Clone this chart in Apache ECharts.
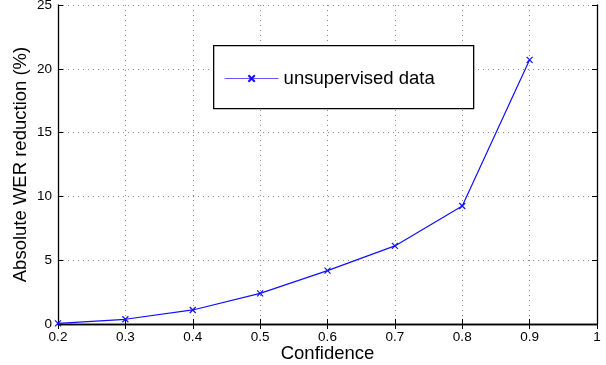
<!DOCTYPE html>
<html>
<head>
<meta charset="utf-8">
<script src="https://cdn.jsdelivr.net/npm/echarts@6/dist/echarts.min.js"></script>
<style>
  html, body { margin: 0; padding: 0; background: #fff; }
  #chart { width: 606px; height: 365px; }
</style>
</head>
<body>
<div id="chart"></div>
<script>
// confidence thresholds and the WER reduction
const confidence = [0.2, 0.3, 0.4, 0.5, 0.6, 0.7, 0.8, 0.9];
const werReduction = [0.05, 0.37, 1.1, 2.4, 4.18, 6.12, 9.25, 20.7];
const seriesName = 'unsupervised data';

const font = 'Liberation Sans, Arial, Helvetica, sans-serif';
const blue = '#1010ff';
const crossSymbol = 'path://M0,0L10,10M10,0L0,10';

const myChart = echarts.init(document.getElementById('chart'));

const boxAxis = {
  axisLine: {show: true, lineStyle: {color: '#000', width: 1.3}},
  axisTick: {show: true, inside: true, length: 5, lineStyle: {color: '#000'}},
  splitLine: {show: false}
};

myChart.setOption({
  animation: false,
  textStyle: {fontFamily: font},
  grid: {left: 58, right: 9, top: 5, bottom: 41, outerBoundsMode: 'none', containLabel: false},
  xAxis: [
    {
      type: 'value', min: 0.2, max: 1, interval: 0.1,
      name: 'Confidence', nameLocation: 'middle', nameGap: 20, nameMoveOverlap: false,
      nameTextStyle: {fontSize: 18.5, color: '#000', fontFamily: font},
      axisLine: {lineStyle: {color: '#000', width: 1.3}},
      axisTick: {inside: true, length: 5, lineStyle: {color: '#000'}},
      axisLabel: {fontSize: 13.5, color: '#000', margin: 6, formatter: v => String(+v.toFixed(1))},
      splitLine: {show: true, lineStyle: {color: '#888', type: [1, 4], width: 1}}
    },
    Object.assign({type: 'value', position: 'top', min: 0.2, max: 1, interval: 0.1,
      axisLabel: {show: false}}, boxAxis)
  ],
  yAxis: [
    {
      type: 'value', min: 0, max: 25, interval: 5,
      name: 'Absolute WER reduction (%)', nameLocation: 'middle', nameGap: 28, nameMoveOverlap: false,
      nameTextStyle: {fontSize: 18.5, color: '#000', fontFamily: font},
      axisLine: {show: true, lineStyle: {color: '#000', width: 1.3}},
      axisTick: {show: true, inside: true, length: 5, lineStyle: {color: '#000'}},
      axisLabel: {fontSize: 13.5, color: '#000', margin: 6},
      splitLine: {show: true, lineStyle: {color: '#888', type: [1, 4], width: 1}}
    },
    Object.assign({type: 'value', position: 'right', min: 0, max: 25, interval: 5,
      axisLabel: {show: false}}, boxAxis)
  ],
  legend: {
    left: 219, top: 64, z: 20,
    itemWidth: 54, itemHeight: 8, itemGap: 0,
    lineStyle: {width: 1.2, color: '#6060ff'},
    textStyle: {fontSize: 18.5, color: '#000', fontFamily: font}
  },
  graphic: [{
    type: 'rect', left: 213, top: 45, z: 10,
    shape: {width: 260, height: 63},
    style: {fill: '#fff', stroke: '#000', lineWidth: 1.3}
  }],
  series: [{
    name: seriesName,
    type: 'line',
    data: confidence.map((c, i) => [c, werReduction[i]]),
    symbol: crossSymbol,
    symbolSize: 6,
    showAllSymbol: true,
    lineStyle: {color: blue, width: 1.2},
    itemStyle: {color: blue, borderColor: blue, borderWidth: 1.2}
  }]
});
</script>
</body>
</html>
